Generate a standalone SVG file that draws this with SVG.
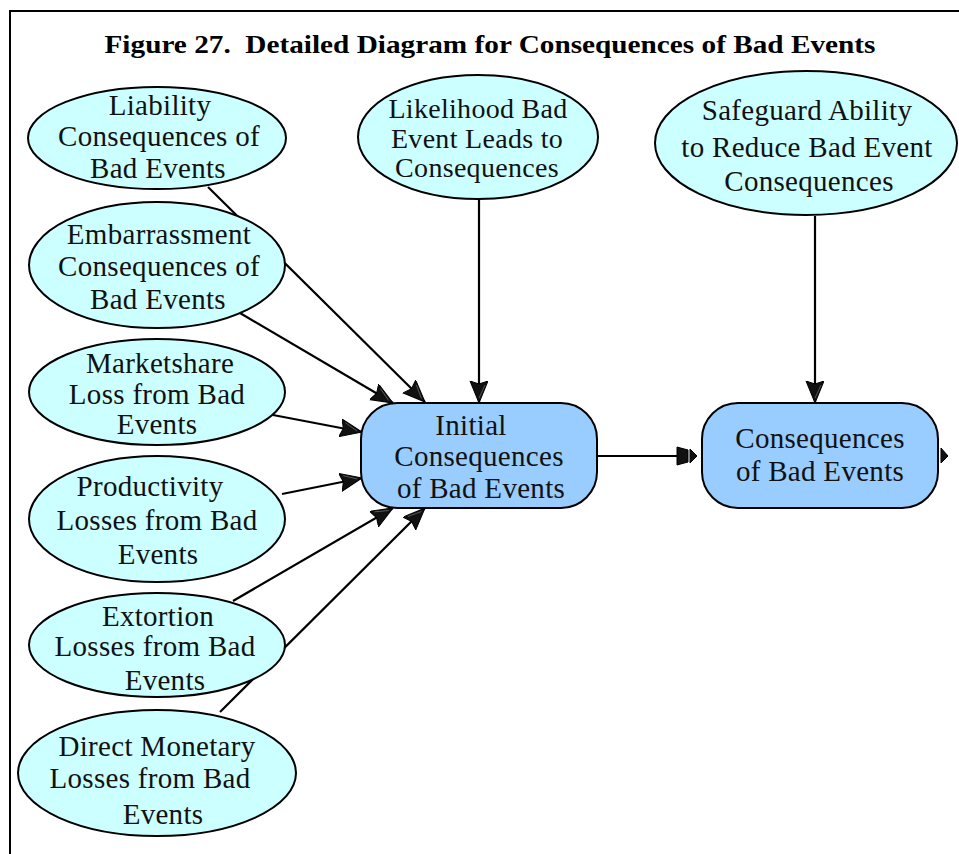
<svg xmlns="http://www.w3.org/2000/svg" width="959" height="854" viewBox="0 0 959 854">
<defs>
<style>
.frame{fill:none;stroke:#000;stroke-width:2}
.title{font-family:"Liberation Serif",serif;font-weight:bold;font-size:26px;fill:#000}
.ell{fill:#ccffff;stroke:#000;stroke-width:2}
.box{fill:#99ccff;stroke:#000;stroke-width:2}
.lbl{font-family:"Liberation Serif",serif;font-size:29px;letter-spacing:0.3px;fill:#111;text-anchor:middle}
.sm{font-size:28px}
.edge{fill:none;stroke:#000;stroke-width:2.2}
.head{fill:#111;stroke:#000;stroke-width:1}
</style>
<marker id="arr" markerUnits="userSpaceOnUse" markerWidth="26" markerHeight="22" refX="22" refY="9" orient="auto" viewBox="0 0 26 22">
<path d="M0,0 L22,9 L0,18 L3,9 Z" fill="#111" stroke="#000" stroke-width="1"/>
<path d="M4,3 L17,9" stroke="#666" stroke-width="0.8" fill="none"/>
</marker>
</defs>
<rect width="959" height="854" fill="#fff"/>
<path class="frame" d="M10,854 L10,11 L959,11"/>
<text class="title" x="490" y="53" text-anchor="middle" textLength="771" lengthAdjust="spacingAndGlyphs">Figure 27.&#160; Detailed Diagram for Consequences of Bad Events</text>
<g id="connectors">
<line class="edge" x1="208" y1="187" x2="425" y2="402" marker-end="url(#arr)"/>
<line class="edge" x1="240" y1="313" x2="393" y2="403" marker-end="url(#arr)"/>
<line class="edge" x1="273" y1="415" x2="362" y2="432" marker-end="url(#arr)"/>
<line class="edge" x1="282" y1="494" x2="362" y2="478" marker-end="url(#arr)"/>
<line class="edge" x1="233" y1="601" x2="393" y2="508" marker-end="url(#arr)"/>
<line class="edge" x1="220" y1="712" x2="425" y2="508" marker-end="url(#arr)"/>
<line class="edge" x1="479" y1="199" x2="479" y2="403" marker-end="url(#arr)"/>
<line class="edge" x1="815" y1="216" x2="815" y2="403" marker-end="url(#arr)"/>
<line class="edge" x1="597" y1="456" x2="680" y2="456"/>
<polygon class="head" points="677,447 688,450 688,462 677,465"/>
<polygon class="head" points="690,449 697,456 690,463"/>
<polygon class="head" points="941,448 948,456 941,463"/>
</g>
<g id="liability">
<ellipse class="ell" cx="157" cy="138" rx="129" ry="51"/>
<text class="lbl"><tspan x="160" y="115">Liability</tspan><tspan x="159" y="146">Consequences of</tspan><tspan x="158" y="178">Bad Events</tspan></text>
</g>
<g id="embarrassment">
<ellipse class="ell" cx="157" cy="265" rx="128" ry="63"/>
<text class="lbl"><tspan x="159" y="244">Embarrassment</tspan><tspan x="159" y="276">Consequences of</tspan><tspan x="158" y="309">Bad Events</tspan></text>
</g>
<g id="marketshare">
<ellipse class="ell" cx="157" cy="392" rx="128" ry="53"/>
<text class="lbl"><tspan x="160" y="373">Marketshare</tspan><tspan x="157" y="404">Loss from Bad</tspan><tspan x="157" y="434">Events</tspan></text>
</g>
<g id="productivity">
<ellipse class="ell" cx="157" cy="519" rx="128" ry="63"/>
<text class="lbl"><tspan x="150" y="496">Productivity</tspan><tspan x="157" y="530">Losses from Bad</tspan><tspan x="158" y="564">Events</tspan></text>
</g>
<g id="extortion">
<ellipse class="ell" cx="157" cy="645" rx="128" ry="52"/>
<text class="lbl"><tspan x="158" y="626">Extortion</tspan><tspan x="155" y="656">Losses from Bad</tspan><tspan x="165" y="690">Events</tspan></text>
</g>
<g id="direct">
<ellipse class="ell" cx="157" cy="773" rx="139" ry="63"/>
<text class="lbl"><tspan x="157" y="756">Direct Monetary</tspan><tspan x="150" y="788">Losses from Bad</tspan><tspan x="163" y="824">Events</tspan></text>
</g>
<g id="likelihood">
<ellipse class="ell" cx="478" cy="137" rx="120" ry="62"/>
<text class="lbl sm"><tspan x="478" y="118">Likelihood Bad</tspan><tspan x="477" y="148">Event Leads to</tspan><tspan x="477" y="177">Consequences</tspan></text>
</g>
<g id="safeguard">
<ellipse class="ell" cx="806" cy="143" rx="151" ry="72"/>
<text class="lbl"><tspan x="807" y="120">Safeguard Ability</tspan><tspan x="807" y="157">to Reduce Bad Event</tspan><tspan x="809" y="191">Consequences</tspan></text>
</g>
<g id="initial">
<rect class="box" x="361" y="403" width="236" height="105" rx="36" ry="36"/>
<text class="lbl"><tspan x="471" y="435">Initial</tspan><tspan x="479" y="466">Consequences</tspan><tspan x="481" y="498">of Bad Events</tspan></text>
</g>
<g id="consequences">
<rect class="box" x="702" y="403" width="236" height="105" rx="36" ry="36"/>
<text class="lbl"><tspan x="820" y="448">Consequences</tspan><tspan x="820" y="481">of Bad Events</tspan></text>
</g>
</svg>
